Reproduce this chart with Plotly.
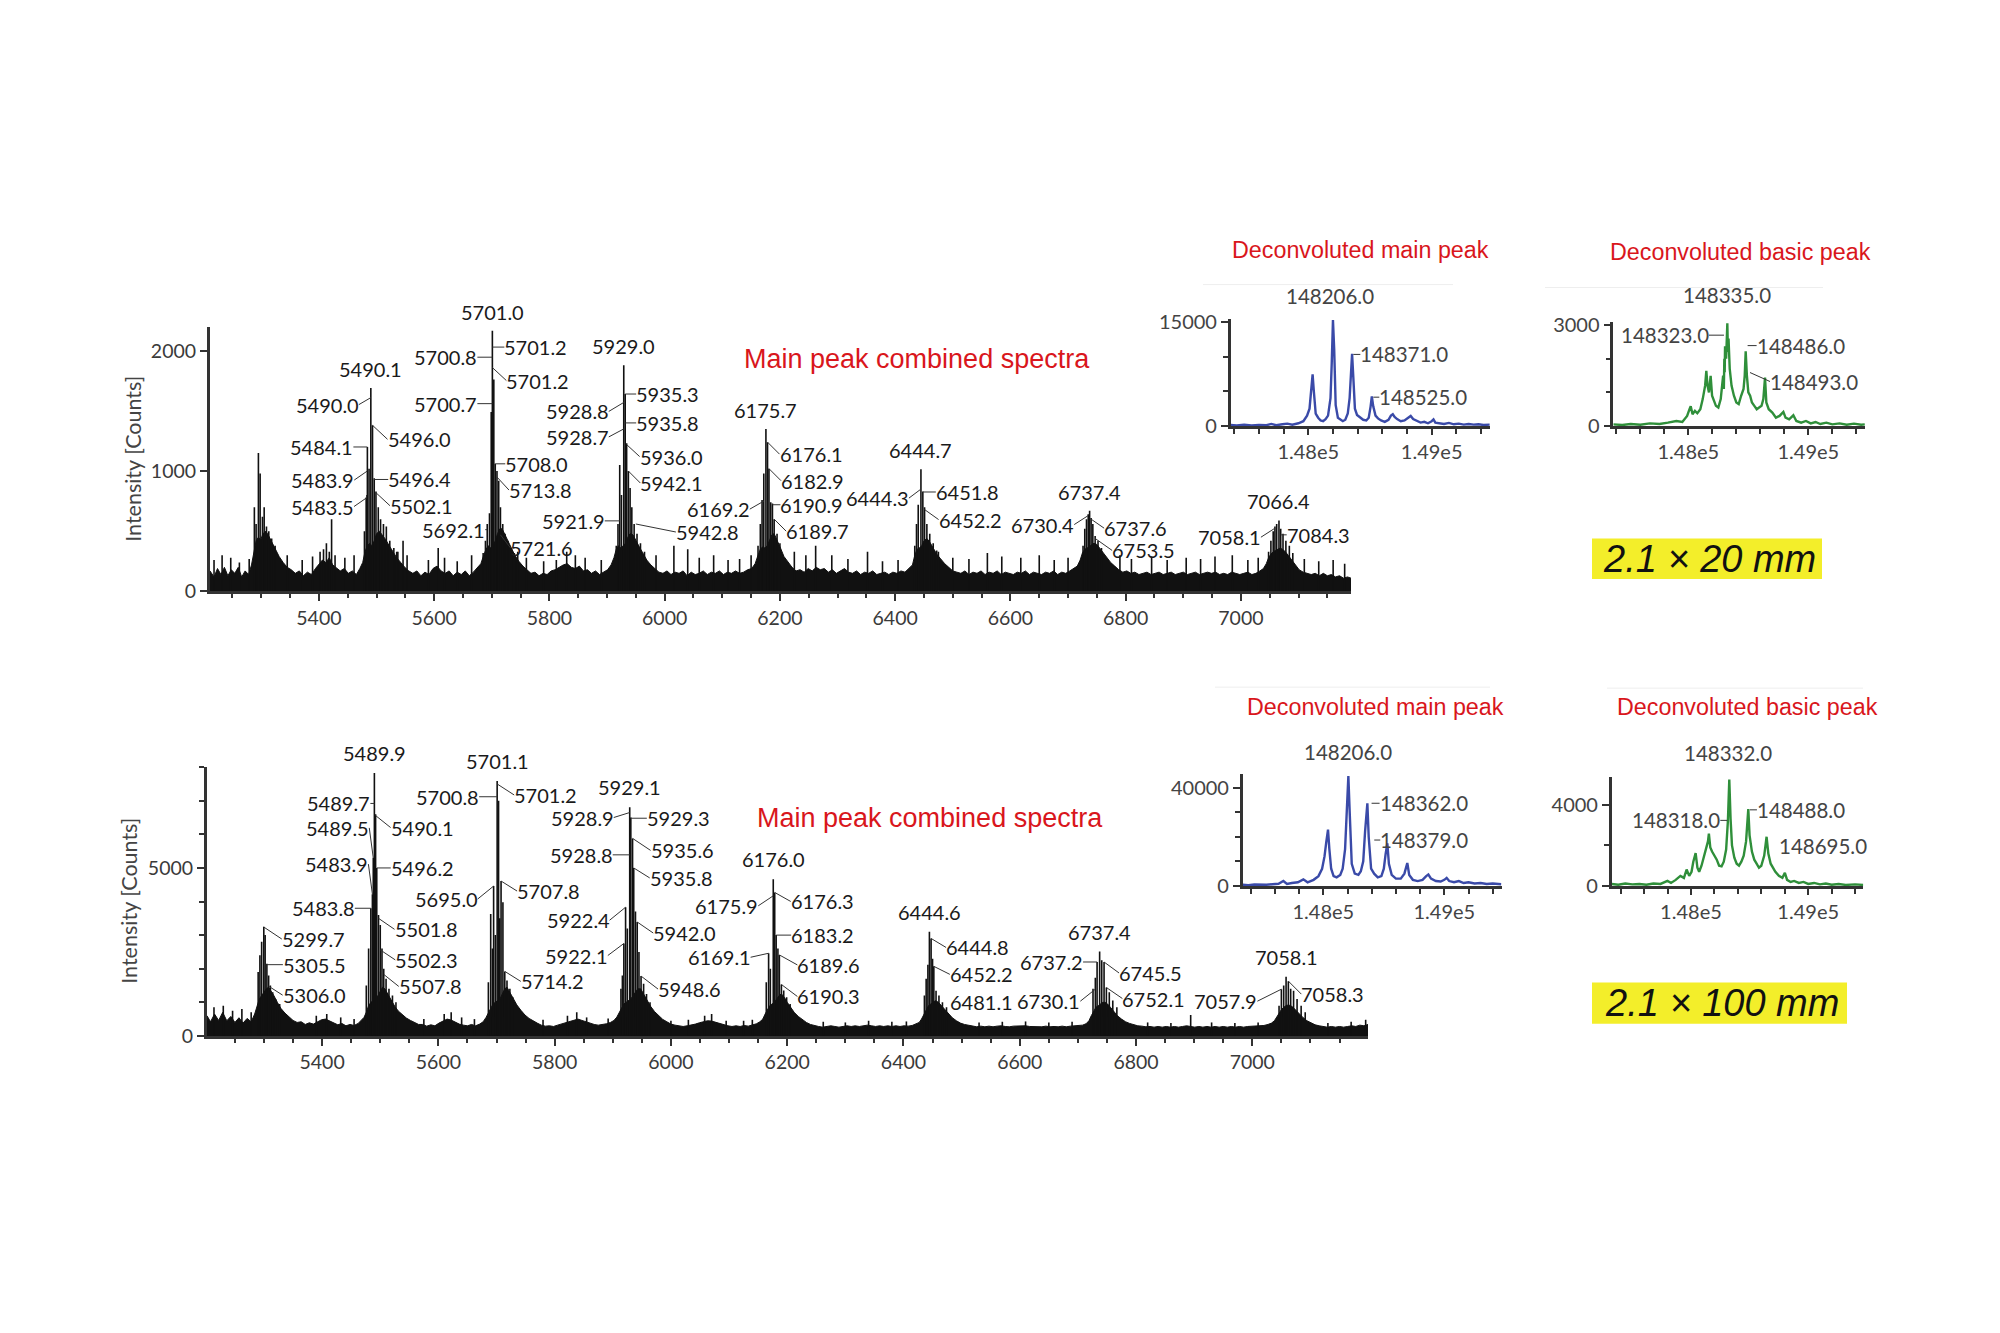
import plotly.graph_objects as go

W, H = 2000, 1333

# ======================= DATA =======================
# ---- top combined spectrum (2.1 x 20 mm): noise floor / cluster body (m/z, counts)
top_envelope = [(5211,170),(5218,120),(5224,190),(5230,140),(5236,200),(5242,130),(5248,180),(5254,150),(5260,200),(5266,120),(5272,170),(5278,140),(5283,220),(5287,330),(5291,420),(5295,450),(5299,430),(5303,480),(5308,500),(5313,460),(5319,400),(5325,340),(5331,290),(5338,240),(5345,200),(5352,180),(5359,150),(5366,170),(5373,130),(5380,160),(5387,140),(5394,190),(5400,230),(5406,260),(5412,240),(5418,280),(5424,220),(5430,200),(5437,170),(5444,190),(5451,150),(5458,170),(5465,140),(5471,190),(5476,240),(5480,330),(5484,380),(5488,400),(5492,380),(5496,420),(5500,480),(5505,500),(5510,470),(5516,430),(5522,380),(5528,330),(5535,280),(5542,240),(5549,200),(5556,170),(5563,150),(5570,170),(5577,130),(5584,160),(5591,140),(5598,190),(5605,210),(5612,170),(5619,150),(5626,170),(5633,130),(5640,160),(5647,140),(5654,170),(5661,130),(5668,160),(5675,200),(5681,230),(5686,300),(5690,350),(5694,380),(5698,360),(5702,380),(5706,420),(5710,480),(5714,520),(5718,520),(5722,480),(5727,430),(5733,370),(5740,300),(5747,250),(5754,210),(5761,180),(5768,150),(5775,160),(5782,130),(5789,150),(5796,140),(5803,170),(5810,180),(5817,200),(5824,220),(5831,230),(5838,200),(5845,190),(5852,210),(5859,170),(5866,180),(5873,150),(5880,170),(5887,140),(5894,160),(5901,180),(5907,220),(5912,280),(5916,350),(5920,380),(5924,360),(5928,380),(5932,400),(5936,450),(5940,480),(5945,470),(5950,430),(5956,370),(5962,320),(5969,260),(5976,220),(5983,190),(5990,160),(5997,150),(6004,170),(6011,140),(6018,160),(6025,150),(6032,170),(6039,130),(6046,160),(6053,140),(6060,150),(6067,170),(6074,140),(6081,160),(6088,150),(6095,170),(6102,140),(6109,160),(6116,150),(6123,170),(6130,150),(6137,160),(6144,180),(6151,190),(6157,230),(6162,300),(6166,350),(6170,370),(6174,360),(6178,380),(6182,420),(6186,470),(6190,480),(6195,430),(6201,360),(6207,290),(6214,240),(6221,200),(6228,170),(6235,180),(6242,160),(6249,190),(6256,170),(6263,200),(6270,180),(6277,190),(6284,160),(6291,180),(6298,150),(6305,170),(6312,190),(6319,160),(6326,150),(6333,170),(6340,140),(6347,160),(6354,150),(6361,170),(6368,140),(6375,150),(6382,160),(6389,140),(6396,160),(6403,150),(6410,170),(6417,160),(6424,190),(6430,220),(6434,300),(6438,350),(6442,360),(6446,380),(6450,420),(6455,440),(6460,410),(6466,360),(6472,310),(6479,270),(6486,230),(6493,200),(6500,170),(6507,160),(6514,150),(6521,170),(6528,140),(6535,160),(6542,150),(6549,170),(6556,140),(6563,160),(6570,150),(6577,170),(6584,140),(6591,160),(6598,150),(6605,140),(6612,160),(6619,150),(6626,170),(6633,140),(6640,160),(6647,150),(6654,140),(6661,160),(6668,150),(6675,170),(6682,140),(6689,160),(6696,150),(6703,170),(6710,190),(6716,210),(6721,260),(6725,320),(6729,350),(6733,360),(6737,370),(6741,390),(6745,400),(6750,390),(6755,360),(6761,320),(6767,280),(6774,240),(6781,210),(6788,180),(6795,160),(6802,170),(6809,150),(6816,160),(6823,140),(6830,150),(6837,160),(6844,140),(6851,150),(6858,160),(6865,140),(6872,150),(6879,160),(6886,140),(6893,150),(6900,160),(6907,140),(6914,150),(6921,160),(6928,140),(6935,150),(6942,160),(6949,150),(6956,160),(6963,140),(6970,150),(6977,140),(6984,160),(6991,150),(6998,140),(7005,150),(7012,160),(7019,140),(7026,150),(7033,170),(7039,190),(7044,230),(7048,280),(7052,310),(7056,330),(7060,340),(7064,350),(7068,360),(7072,350),(7077,330),(7082,300),(7088,260),(7094,220),(7101,180),(7108,160),(7115,150),(7122,140),(7129,150),(7136,130),(7143,150),(7150,130),(7157,140),(7164,120),(7171,130),(7178,110),(7185,120),(7191,110)]

# ---- top combined spectrum: individual centroid spikes (m/z, counts)
top_spikes = [(5218,260),(5232,300),(5247,280),(5262,240),(5279,270),(5345,300),(5371,260),(5389,290),(5445,280),(5461,300),(5537,330),(5546,420),(5553,300),(5590,260),(5607,360),(5618,280),(5640,250),(5665,300),(5745,330),(5760,280),(5790,250),(5812,260),(5830,330),(5845,300),(5862,280),(5890,260),(5965,330),(5985,300),(6016,380),(6040,350),(6060,280),(6085,300),(6110,260),(6130,270),(6150,300),(6225,330),(6245,300),(6262,380),(6290,300),(6318,270),(6352,330),(6378,250),(6405,260),(6475,330),(6500,280),(6528,270),(6560,320),(6585,290),(6618,280),(6650,300),(6676,260),(6700,280),(6790,300),(6810,270),(6845,290),(6872,260),(6905,280),(6930,270),(6955,290),(6985,300),(7012,260),(7030,280),(7110,270),(7135,250),(7160,260),(7180,230),
              (5288,700),(5291,560),(5295,1150),(5298,980),(5302,620),(5305,700),(5309,540),(5313,500),(5318,440),(5324,380),
              (5402,330),(5408,350),(5413,400),(5418,330),(5422,600),(5428,300),
              (5479,500),(5482,780),(5483.5,800),(5484.1,1200),(5487,1020),(5490.1,1690),(5493,1380),(5496,940),(5499,830),(5503,700),(5507,600),(5512,560),(5517,540),(5523,420),(5530,360),(5535,330),
              (5685,320),(5689,420),(5692.1,560),(5696,650),(5699,1490),(5701,2165),(5703.5,1760),(5706,1060),(5709,1000),(5712,920),(5715,700),(5719,560),(5723,480),(5728,420),(5734,360),(5739,320),
              (5916,380),(5919,560),(5922,1050),(5925,800),(5929,1880),(5931.5,1640),(5934,1230),(5937,1000),(5940,860),(5943,700),(5947,560),(5952,480),(5958,400),
              (6162,380),(6166,560),(6169,760),(6172,980),(6175.7,1350),(6178.5,1240),(6181,1020),(6184,740),(6187,730),(6190,600),(6195,480),(6200,400),
              (6434,380),(6437,560),(6440,720),(6444.7,1015),(6448,830),(6451,700),(6455,560),(6460,480),(6466,400),(6472,340),
              (6726,380),(6729,520),(6732,600),(6735,640),(6737.4,670),(6740,610),(6743,560),(6747,460),(6752,420),(6758,360),
              (7048,330),(7052,420),(7056,500),(7059,540),(7062,560),(7066,590),(7069,520),(7073,480),(7078,420),(7084,380),(7090,320)]

# ---- top peak labels: text, m/z of labelled point, intensity of labelled point
top_label_text = ["5490.1","5490.0","5484.1","5483.9","5483.5","5496.0","5496.4","5502.1",
                  "5701.0","5700.8","5701.2","5701.2","5700.7","5708.0","5713.8","5692.1","5721.6",
                  "5929.0","5935.3","5928.8","5935.8","5928.7","5936.0","5942.1","5921.9","5942.8",
                  "6175.7","6176.1","6182.9","6169.2","6190.9","6189.7",
                  "6444.7","6444.3","6451.8","6452.2",
                  "6737.4","6730.4","6737.6","6753.5",
                  "7066.4","7058.1","7084.3"]
top_label_mz = [5490.1,5490.1,5484.1,5483.9,5483.5,5493,5496,5499,
                5701,5701,5701,5701,5701,5706,5709,5692.1,5715,
                5929,5931.5,5929,5931.5,5929,5934,5937,5922,5950,
                6175.7,6178.5,6181,6172,6187,6190,
                6444.7,6444.7,6448,6451,
                6737.4,6735,6740,6747,
                7066,7059,7069]
top_label_int = [1690,1610,1200,1000,780,1380,930,820,
                 2165,1946,2030,1860,1560,1060,950,513,470,
                 1880,1640,1570,1400,1350,1220,1000,586,560,
                 1350,1240,1020,750,720,600,
                 1015,850,826,680,
                 670,630,600,440,
                 590,525,470]

# ---- bottom combined spectrum (2.1 x 100 mm)
bottom_envelope = [(5202,600),(5208,420),(5215,650),(5222,460),(5229,700),(5236,450),(5243,580),(5250,400),(5257,540),(5264,380),(5271,520),(5278,420),(5284,650),(5288,900),(5292,1100),(5296,1200),(5300,1300),(5304,1400),(5308,1450),(5312,1350),(5317,1200),(5323,1000),(5329,820),(5336,680),(5343,560),(5350,460),(5357,400),(5364,420),(5371,340),(5378,390),(5385,350),(5392,420),(5399,480),(5406,500),(5413,440),(5420,380),(5427,330),(5434,370),(5441,300),(5448,340),(5455,310),(5462,370),(5468,480),(5472,550),(5476,700),(5480,900),(5484,1000),(5488,1050),(5492,1100),(5496,1200),(5500,1350),(5504,1450),(5508,1400),(5513,1250),(5519,1050),(5525,880),(5531,740),(5538,620),(5545,530),(5552,460),(5559,400),(5566,340),(5573,340),(5580,290),(5587,330),(5594,300),(5601,380),(5608,450),(5615,500),(5622,470),(5629,400),(5636,350),(5643,320),(5650,300),(5657,340),(5664,300),(5671,350),(5677,420),(5682,550),(5686,700),(5690,850),(5694,950),(5698,1000),(5702,1050),(5706,1100),(5710,1250),(5714,1400),(5718,1450),(5723,1300),(5729,1100),(5735,920),(5742,760),(5749,620),(5756,520),(5763,440),(5770,380),(5777,320),(5784,290),(5791,300),(5798,280),(5805,320),(5812,360),(5819,400),(5826,440),(5833,480),(5840,500),(5847,460),(5854,420),(5861,370),(5868,340),(5875,320),(5882,330),(5889,360),(5896,400),(5902,460),(5907,560),(5911,700),(5915,850),(5919,950),(5923,1000),(5927,1050),(5931,1100),(5935,1200),(5939,1300),(5943,1400),(5948,1400),(5953,1250),(5959,1050),(5965,880),(5972,720),(5979,590),(5986,490),(5993,420),(6000,350),(6007,320),(6014,300),(6021,280),(6028,300),(6035,320),(6042,350),(6049,390),(6056,420),(6063,450),(6070,440),(6077,400),(6084,360),(6091,320),(6098,300),(6105,280),(6112,300),(6119,280),(6126,310),(6133,290),(6140,330),(6147,360),(6153,420),(6158,500),(6162,650),(6166,800),(6170,900),(6174,950),(6178,1000),(6182,1100),(6186,1200),(6190,1250),(6195,1150),(6200,1000),(6206,850),(6212,700),(6219,580),(6226,480),(6233,400),(6240,340),(6247,300),(6254,280),(6261,260),(6268,280),(6275,300),(6282,280),(6289,260),(6296,280),(6303,300),(6310,280),(6317,300),(6324,280),(6331,300),(6338,320),(6345,300),(6352,280),(6359,300),(6366,280),(6373,300),(6380,280),(6387,300),(6394,280),(6401,300),(6408,290),(6415,310),(6421,350),(6427,400),(6431,500),(6435,650),(6439,800),(6443,900),(6447,950),(6451,1000),(6455,1050),(6460,1000),(6465,900),(6471,780),(6477,650),(6484,540),(6491,450),(6498,380),(6505,340),(6512,310),(6519,290),(6526,270),(6533,290),(6540,270),(6547,290),(6554,270),(6561,290),(6568,300),(6575,280),(6582,270),(6589,290),(6596,300),(6603,310),(6610,300),(6617,280),(6624,270),(6631,280),(6638,270),(6645,290),(6652,270),(6659,280),(6666,270),(6673,290),(6680,270),(6687,290),(6694,300),(6701,290),(6708,320),(6714,360),(6719,450),(6723,600),(6727,750),(6731,850),(6735,900),(6739,950),(6743,1000),(6747,1000),(6751,950),(6756,850),(6762,720),(6768,600),(6775,500),(6782,420),(6789,370),(6796,330),(6803,300),(6810,290),(6817,270),(6824,280),(6831,260),(6838,280),(6845,260),(6852,280),(6859,260),(6866,280),(6873,260),(6880,280),(6887,300),(6894,280),(6901,260),(6908,280),(6915,260),(6922,280),(6929,260),(6936,280),(6943,260),(6950,280),(6957,260),(6964,280),(6971,260),(6978,280),(6985,260),(6992,280),(6999,290),(7006,280),(7013,300),(7020,310),(7027,340),(7033,380),(7038,450),(7042,560),(7046,680),(7050,780),(7054,850),(7058,900),(7062,920),(7066,900),(7070,850),(7075,760),(7081,650),(7087,550),(7094,450),(7101,380),(7108,330),(7115,300),(7122,280),(7129,260),(7136,280),(7143,260),(7150,280),(7157,260),(7164,280),(7171,300),(7178,280),(7185,320),(7192,300),(7199,340)]

bottom_spikes = [(5214,850),(5230,900),(5246,750),(5262,800),(5278,700),(5390,600),(5408,650),(5432,550),(5455,500),(5575,500),(5610,650),(5622,700),(5640,550),(5662,500),(5780,480),(5822,600),(5838,700),(5855,550),(5892,520),(6000,450),(6030,480),(6058,600),(6070,650),(6095,450),(6125,450),(6140,480),(6262,420),(6300,400),(6340,450),(6380,420),(6405,430),(6530,400),(6570,420),(6610,430),(6650,400),(6690,420),(6820,400),(6860,380),(6894,620),(6930,400),(6970,380),(7010,400),(7130,380),(7170,420),(7195,480),
                 (5290,1900),(5293,2400),(5296,2800),(5299.7,3250),(5302,3000),(5305,2150),(5308,1800),(5311,1500),(5315,1300),(5320,1100),(5327,950),
                 (5476,1500),(5480,2600),(5483.8,3800),(5486.5,4220),(5488,5300),(5489.9,7830),(5492,6600),(5494,5000),(5497,3600),(5500,3300),(5503,2600),(5506,2000),(5510,1700),(5515,1400),(5521,1200),(5527,1000),
                 (5686,1600),(5690,3630),(5693,2600),(5695,4460),(5698,3000),(5701.1,7590),(5703.5,7000),(5705.5,3500),(5707.8,4610),(5711,3980),(5714.2,1920),(5718,1650),(5723,1400),(5728,1150),
                 (5914,1400),(5916.5,1800),(5919,2750),(5922,3830),(5925,3200),(5929.1,6810),(5931,6500),(5934,5880),(5936,5000),(5939,3700),(5942,3390),(5945,2500),(5948.6,1780),(5953,1550),(5958,1250),(5964,1000),
                 (6164,1600),(6168,2460),(6171,2000),(6176,4660),(6178.5,4270),(6181,3000),(6184,2600),(6186.5,2410),(6190,1530),(6194,1350),(6199,1150),(6205,950),
                 (6436,1200),(6439,1700),(6442,2120),(6444.6,3100),(6447.5,2900),(6450,2300),(6452.2,2070),(6456,1340),(6461,1200),(6467,1000),(6474,850),
                 (6726,1400),(6730,1730),(6733,2200),(6737.4,2510),(6741,2250),(6745,2200),(6749,1440),(6754,1300),(6760,1050),(6767,850),
                 (7046,900),(7050,1390),(7054,1500),(7058.1,1760),(7062,1630),(7066,1400),(7071,1340),(7077,1100),(7084,900),(7091,700)]

bottom_label_text = ["5489.9","5489.7","5489.5","5483.9","5483.8","5490.1","5496.2","5501.8","5502.3","5507.8",
                     "5299.7","5305.5","5306.0",
                     "5701.1","5700.8","5701.2","5695.0","5707.8","5714.2",
                     "5929.1","5928.9","5929.3","5935.6","5928.8","5935.8","5922.4","5942.0","5922.1","5948.6",
                     "6176.0","6175.9","6176.3","6183.2","6169.1","6189.6","6190.3",
                     "6444.6","6444.8","6452.2","6481.1",
                     "6737.4","6737.2","6745.5","6730.1","6752.1",
                     "7058.1","7057.9","7058.3"]
bottom_label_mz = [5489.9,5489.9,5488,5486.5,5483.8,5492,5494,5497,5500,5506,
                   5299.7,5305,5308,
                   5701.1,5701.1,5701.1,5695,5707.8,5714.2,
                   5929.1,5929.1,5931,5934,5929.1,5936,5922,5942,5919,5948.6,
                   6176,6176,6178.5,6181,6168,6186.5,6190,
                   6444.6,6447.5,6452.2,6456,
                   6737.4,6733,6745,6730,6749,
                   7058.1,7050,7062]
bottom_label_int = [7830,6920,5300,4220,3800,6560,5000,3500,2560,1830,
                    3240,2120,1480,
                    7590,7120,7500,4460,4610,1920,
                    6810,6650,6480,5880,5390,5000,3830,3390,2750,1780,
                    4660,4170,4270,3000,2460,2410,1530,
                    3100,2900,2070,1340,
                    2510,2200,2200,1390,1440,
                    1760,1390,1630]

# ---- deconvoluted spectra (mass, counts)
top_main_decon = [(147371,150),(147420,80),(147480,200),(147540,100),(147600,150),(147660,120),(147700,300),(147740,120),(147790,250),(147830,350),(147870,200),(147920,400),(147960,700),(147990,1500),(148010,2500),(148025,5000),(148035,7450),(148045,5000),(148060,1800),(148080,1200),(148100,800),(148120,700),(148140,1000),(148160,1500),(148180,4000),(148190,9000),(148200,15230),(148210,11000),(148222,3000),(148240,1200),(148260,900),(148280,700),(148300,900),(148320,1800),(148335,4000),(148345,8000),(148355,10400),(148365,7000),(148378,2500),(148395,1600),(148420,1200),(148445,900),(148470,800),(148490,1200),(148505,2800),(148515,4250),(148527,2800),(148545,1500),(148565,1100),(148590,800),(148620,600),(148650,900),(148670,1500),(148685,1700),(148700,1300),(148720,1000),(148750,700),(148780,800),(148810,1200),(148830,1450),(148850,1000),(148880,700),(148910,500),(148940,600),(148970,400),(149000,700),(149015,950),(149030,500),(149060,400),(149100,300),(149140,450),(149180,250),(149220,350),(149260,200),(149300,300),(149340,200),(149380,250),(149420,150),(149470,200)]
top_basic_decon = [(147375,50),(147450,30),(147520,60),(147600,40),(147680,80),(147760,60),(147830,100),(147900,150),(147950,120),(147990,300),(148010,500),(148020,590),(148035,350),(148055,450),(148075,380),(148100,500),(148120,800),(148140,1200),(148150,1640),(148160,1200),(148172,1000),(148186,1490),(148198,900),(148215,700),(148230,600),(148250,550),(148270,800),(148290,1500),(148296,1100),(148300,2000),(148303,1600),(148306,2370),(148315,2000),(148325,3050),(148330,2200),(148335,2600),(148345,1700),(148360,1200),(148380,900),(148400,700),(148420,650),(148440,900),(148460,1100),(148470,1500),(148478,2220),(148488,1500),(148500,1000),(148515,900),(148530,700),(148550,600),(148570,500),(148590,550),(148610,600),(148625,800),(148639,1440),(148650,700),(148670,500),(148700,400),(148730,250),(148760,300),(148792,420),(148810,250),(148840,200),(148875,320),(148900,150),(148940,100),(148980,150),(149020,80),(149060,120),(149100,60),(149150,100),(149200,50),(149260,80),(149320,40),(149380,70),(149440,40),(149470,50)]
bottom_main_decon = [(147334,500),(147380,300),(147430,600),(147480,400),(147530,500),(147580,700),(147630,900),(147670,2000),(147700,800),(147740,1200),(147790,1500),(147835,2700),(147870,1500),(147920,2500),(147960,4000),(147990,7000),(148010,12000),(148025,18000),(148039,22900),(148050,15000),(148065,7000),(148085,4000),(148110,3500),(148140,4500),(148160,7000),(148180,15000),(148195,35000),(148207,44660),(148218,30000),(148235,9000),(148260,5000),(148290,4500),(148310,6000),(148330,10000),(148345,22000),(148356,31000),(148364,33600),(148375,20000),(148395,7000),(148420,5000),(148450,3500),(148480,4000),(148500,7000),(148515,13000),(148529,17330),(148542,9000),(148565,4500),(148600,3000),(148640,3000),(148670,5000),(148685,8000),(148694,9330),(148710,4500),(148740,2500),(148780,2000),(148820,2500),(148850,4000),(148868,4670),(148890,3000),(148930,2000),(148970,1800),(149000,2500),(149019,3300),(149040,2000),(149080,1500),(149120,2000),(149160,1200),(149200,1500),(149250,1000),(149300,1200),(149350,800),(149400,1000),(149470,700)]
bottom_basic_decon = [(147324,100),(147380,60),(147440,120),(147500,80),(147560,100),(147620,60),(147680,120),(147740,100),(147800,250),(147830,150),(147870,300),(147910,500),(147940,400),(147963,810),(147985,500),(148005,700),(148020,1200),(148040,1620),(148055,900),(148070,700),(148090,1000),(148110,1400),(148130,1800),(148145,2200),(148153,2590),(148165,1900),(148180,1700),(148200,1500),(148220,1300),(148240,1000),(148261,970),(148280,1200),(148300,1800),(148315,3200),(148327,5260),(148338,3300),(148350,2000),(148370,1400),(148390,1100),(148410,1000),(148430,1200),(148450,1500),(148470,2200),(148489,3800),(148500,2500),(148520,1700),(148540,1300),(148560,1100),(148580,900),(148600,1000),(148625,1500),(148645,2430),(148660,1600),(148680,1100),(148700,900),(148720,700),(148750,500),(148780,400),(148801,650),(148820,300),(148850,200),(148880,250),(148920,150),(148960,200),(149000,100),(149050,150),(149100,80),(149150,120),(149200,60),(149260,100),(149320,50),(149400,80),(149470,50)]

top_main_decon_labels = ["148206.0", "148371.0", "148525.0"]
top_main_decon_lab_mass = [148200, 148365, 148527]
top_main_decon_lab_int = [15230, 10300, 4150]
top_basic_decon_labels = ["148335.0", "148323.0", "148486.0", "148493.0"]
top_basic_decon_lab_mass = [148325, 148297, 148494, 148514]
top_basic_decon_lab_int = [3050, 2700, 2390, 1590]
bottom_main_decon_labels = ["148206.0", "148362.0", "148379.0"]
bottom_main_decon_lab_mass = [148207, 148399, 148421]
bottom_main_decon_lab_int = [44660, 33600, 18660]
bottom_basic_decon_labels = ["148332.0", "148318.0", "148488.0", "148695.0"]
bottom_basic_decon_lab_mass = [148327, 148310, 148503, 148680]
bottom_basic_decon_lab_int = [5260, 3240, 3760, 2380]

main_x_ticks = [5400, 5600, 5800, 6000, 6200, 6400, 6600, 6800, 7000]
decon_x_ticks = [148000, 149000]
decon_x_ticktext = ["1.48e5", "1.49e5"]

# ======================= LAYOUT / STYLE (positions, not data) =======================
# label placement: (side, dx px, dy px); T = centred above the point
top_label_pos = [('T',0,0),('R',-12,7),('R',-14,0),('R',-13,9),('R',-13,9),('L',15,14),('L',14,0),('L',14,13),
                 ('T',0,0),('R',-15,0),('L',12,0),('L',14,13),('R',-15,0),('L',10,0),('L',12,13),('R',-2,0),('L',10,13),
                 ('T',0,0),('L',11,0),('R',-15,9),('L',11,0),('R',-15,8),('L',13,12),('L',12,12),('R',-15,0),('L',40,8),
                 ('T',0,0),('L',12,12),('L',12,12),('R',-14,8),('L',8,0),('L',12,12),
                 ('T',0,0),('R',-12,9),('L',13,0),('L',14,10),
                 ('T',0,0),('R',-14,9),('L',13,9),('L',17,12),
                 ('T',0,0),('R',-14,9),('L',6,0)]
bottom_label_pos = [('T',0,0),('R',-4,0),('R',-4,-30),('R',-4,-30),('R',-16,0),('L',15,12),('L',14,0),('L',16,11),('L',15,10),('L',15,12),
                    ('L',18,12),('L',16,0),('L',14,9),
                    ('T',0,0),('R',-18,0),('L',17,11),('R',-16,13),('L',16,10),('L',16,10),
                    ('T',0,0),('R',-16,5),('L',16,0),('L',18,12),('R',-17,0),('L',16,10),('R',-16,13),('L',16,11),('R',-16,12),('L',17,13),
                    ('T',0,0),('R',-15,10),('L',16,9),('L',15,0),('R',-18,4),('L',18,10),('L',16,12),
                    ('T',0,0),('L',15,9),('L',16,8),('L0',14,11),
                    ('T',0,0),('R',-14,0),('L',15,11),('R',-15,12),('L',16,11),
                    ('T',0,0),('R',-24,12),('L',13,13)]
top_main_decon_pos = [('T',-3,10),('L',7,0),('L',6,0)]
top_basic_decon_pos = [('T',0,14),('R',-15,0),('L',9,0),('L',20,9)]
bottom_main_decon_pos = [('T',0,10),('L',8,0),('L',6,0)]
bottom_basic_decon_pos = [('T',-1,12),('R',-7,0),('L',7,0),('L0',8,8)]

FONT = "Lato, 'Open Sans', Arial, sans-serif"
ARIAL = "'Liberation Sans', Arial, sans-serif"
INK = "#1a1a1a"
AX = "#333333"
RED = "#d9161c"
BLUE = "#3a4aa8"
GREEN = "#2f8f3a"


def px(x):
    return x / W


def py(y):
    return 1 - y / H


fig = go.Figure()


def add_spectrum(env, spikes, xa, ya):
    fig.add_trace(go.Scatter(x=[p[0] for p in env], y=[p[1] for p in env], mode="lines",
                             fill="tozeroy", fillcolor="#111111",
                             line=dict(color="#111111", width=1), xaxis=xa, yaxis=ya,
                             hoverinfo="skip", showlegend=False))
    sx, sy = [], []
    for m, v in spikes:
        sx += [m, m, None]
        sy += [0, v, None]
    fig.add_trace(go.Scatter(x=sx, y=sy, mode="lines", line=dict(color="#111111", width=1.6),
                             xaxis=xa, yaxis=ya, hoverinfo="skip", showlegend=False))


add_spectrum(top_envelope, top_spikes, "x", "y")
add_spectrum(bottom_envelope, bottom_spikes, "x2", "y2")

for spec, col, xa, ya in [(top_main_decon, BLUE, "x3", "y3"), (top_basic_decon, GREEN, "x4", "y4"),
                          (bottom_main_decon, BLUE, "x5", "y5"), (bottom_basic_decon, GREEN, "x6", "y6")]:
    fig.add_trace(go.Scatter(x=[p[0] for p in spec], y=[p[1] for p in spec], mode="lines",
                             line=dict(color=col, width=2.4), xaxis=xa, yaxis=ya,
                             hoverinfo="skip", showlegend=False))

annotations = []


def add_labels(texts, xs, ys, pos, xref, yref, size, color, yshift_top=5):
    for t, x, y, (side, dx, dy) in zip(texts, xs, ys, pos):
        font = dict(family=FONT, size=size, color=color)
        if side == 'T':
            annotations.append(dict(x=x, y=y, xref=xref, yref=yref, text=t, showarrow=False,
                                    xanchor="center", yanchor="bottom", xshift=dx,
                                    yshift=dy if dy else yshift_top, font=font))
        else:
            annotations.append(dict(x=x, y=y, xref=xref, yref=yref, text=t, showarrow=True,
                                    arrowhead=0, arrowwidth=1,
                                    arrowcolor="rgba(0,0,0,0)" if side == 'L0' else "#333333",
                                    ax=dx, ay=dy, xanchor="right" if side == 'R' else "left",
                                    yanchor="middle", standoff=0, borderpad=0, borderwidth=0,
                                    font=font))


add_labels(top_label_text, top_label_mz, top_label_int, top_label_pos, "x", "y", 20, INK)
add_labels(bottom_label_text, bottom_label_mz, bottom_label_int, bottom_label_pos, "x2", "y2", 20, INK, 6)
add_labels(top_main_decon_labels, top_main_decon_lab_mass, top_main_decon_lab_int, top_main_decon_pos, "x3", "y3", 20.5, "#444444")
add_labels(top_basic_decon_labels, top_basic_decon_lab_mass, top_basic_decon_lab_int, top_basic_decon_pos, "x4", "y4", 20.5, "#444444")
add_labels(bottom_main_decon_labels, bottom_main_decon_lab_mass, bottom_main_decon_lab_int, bottom_main_decon_pos, "x5", "y5", 20.5, "#444444")
add_labels(bottom_basic_decon_labels, bottom_basic_decon_lab_mass, bottom_basic_decon_lab_int, bottom_basic_decon_pos, "x6", "y6", 20.5, "#444444")

# axis titles
for (x, y) in [(133, 456), (129, 905)]:
    annotations.append(dict(x=px(x), y=py(y), xref="paper", yref="paper", text="Intensity [Counts]",
                            textangle=-90, showarrow=False, xanchor="center", yanchor="middle",
                            font=dict(family=FONT, size=21.5, color="#444444")))
# red titles
for (t, x, y, s) in [("Main peak combined spectra", 917, 355, 27), ("Main peak combined spectra", 930, 821, 27),
                     ("Deconvoluted main peak", 1360, 244, 23.3), ("Deconvoluted basic peak", 1740, 246, 23.3),
                     ("Deconvoluted main peak", 1375, 708, 23.3), ("Deconvoluted basic peak", 1747, 708, 23.3)]:
    annotations.append(dict(x=px(x), y=py(y), xref="paper", yref="paper", text=t, showarrow=False,
                            xanchor="center", yanchor="middle", font=dict(family=ARIAL, size=s, color=RED)))
# column size badges
shapes = []
for (t, x0, y0, x1, y1) in [("2.1 × 20 mm", 1592, 537, 1822, 578), ("2.1 × 100 mm", 1592, 988, 1847, 1030)]:
    shapes.append(dict(type="rect", xref="paper", yref="paper", x0=px(x0), x1=px(x1), y0=py(y1), y1=py(y0),
                       fillcolor="#f3ee2a", line=dict(width=0), layer="below"))
    annotations.append(dict(x=px((x0 + x1) / 2 + 2), y=py((y0 + y1) / 2), xref="paper", yref="paper",
                            text="<i>" + t + "</i>", showarrow=False, xanchor="center", yanchor="middle",
                            font=dict(family=ARIAL, size=38, color="#111111")))
# faint separator lines above insets
for (x0, x1, y) in [(1203, 1453, 279), (1545, 1823, 282), (1215, 1490, 688), (1607, 1863, 689)]:
    shapes.append(dict(type="line", xref="paper", yref="paper", x0=px(x0), x1=px(x1), y0=py(y), y1=py(y),
                       line=dict(color="#eeeeee", width=1)))

tickfont = dict(family=FONT, size=19.5, color="#3a3a3a")
inset_tickfont = dict(family=FONT, size=20, color="#444444")
base = dict(showgrid=False, zeroline=False, showline=True, linecolor=AX, ticks="outside",
            tickcolor=AX, fixedrange=True)


def main_x(domain, rng, anchor):
    return dict(base, domain=domain, range=rng, anchor=anchor, linewidth=3, ticklen=7, tickwidth=2,
                tickmode="array", tickvals=main_x_ticks, tickfont=tickfont,
                minor=dict(dtick=50, tick0=0, ticks="outside", ticklen=4, tickwidth=1.5, tickcolor=AX))


def inset_x(domain, rng, anchor):
    return dict(base, domain=domain, range=rng, anchor=anchor, linewidth=2.5, ticklen=6, tickwidth=2,
                tickmode="array", tickvals=decon_x_ticks, ticktext=decon_x_ticktext, tickfont=inset_tickfont,
                minor=dict(dtick=200, tick0=0, ticks="outside", ticklen=5, tickwidth=1.5, tickcolor=AX))


def any_y(domain, rng, anchor, tickvals, minor_dtick, tf, lw):
    d = dict(base, domain=domain, range=rng, anchor=anchor, linewidth=lw, ticklen=7, tickwidth=2,
             tickmode="array", tickvals=tickvals, ticktext=[str(v) for v in tickvals], tickfont=tf)
    if minor_dtick:
        d["minor"] = dict(dtick=minor_dtick, tick0=0, ticks="outside", ticklen=5, tickwidth=1.5, tickcolor=AX)
    return d


fig.update_layout(
    width=W, height=H, margin=dict(l=0, r=0, t=0, b=0),
    paper_bgcolor="white", plot_bgcolor="rgba(0,0,0,0)", showlegend=False,
    xaxis=main_x([px(210), px(1351)], [5211, 7191], "y"),
    yaxis=any_y([py(590.7), py(321.7)], [0, 2200], "x", [0, 1000, 2000], None, tickfont, 3),
    xaxis2=main_x([px(207), px(1368)], [5202, 7199], "y2"),
    yaxis2=any_y([py(1042.3), py(769.3)], [0, 8000], "x2", [0, 5000], 1000, tickfont, 3),
    xaxis3=inset_x([px(1230.7), px(1490)], [147371, 149473], "y3"),
    yaxis3=any_y([py(422.7), py(313.9)], [0, 15400], "x3", [0, 15000], 5000, inset_tickfont, 2.5),
    xaxis4=inset_x([px(1613.3), px(1865)], [147375, 149472], "y4"),
    yaxis4=any_y([py(422.7), py(316.7)], [0, 3100], "x4", [0, 3000], 1000, inset_tickfont, 2.5),
    xaxis5=inset_x([px(1242.7), px(1501.7)], [147334, 149474], "y5"),
    yaxis5=any_y([py(890), py(776.7)], [0, 45300], "x5", [0, 40000], 10000, inset_tickfont, 2.5),
    xaxis6=inset_x([px(1611.7), px(1863.3)], [147324, 149470], "y6"),
    yaxis6=any_y([py(890), py(779.3)], [0, 5380], "x6", [0, 4000], 2000, inset_tickfont, 2.5),
    annotations=annotations, shapes=shapes,
)

fig.write_html("out.html")
